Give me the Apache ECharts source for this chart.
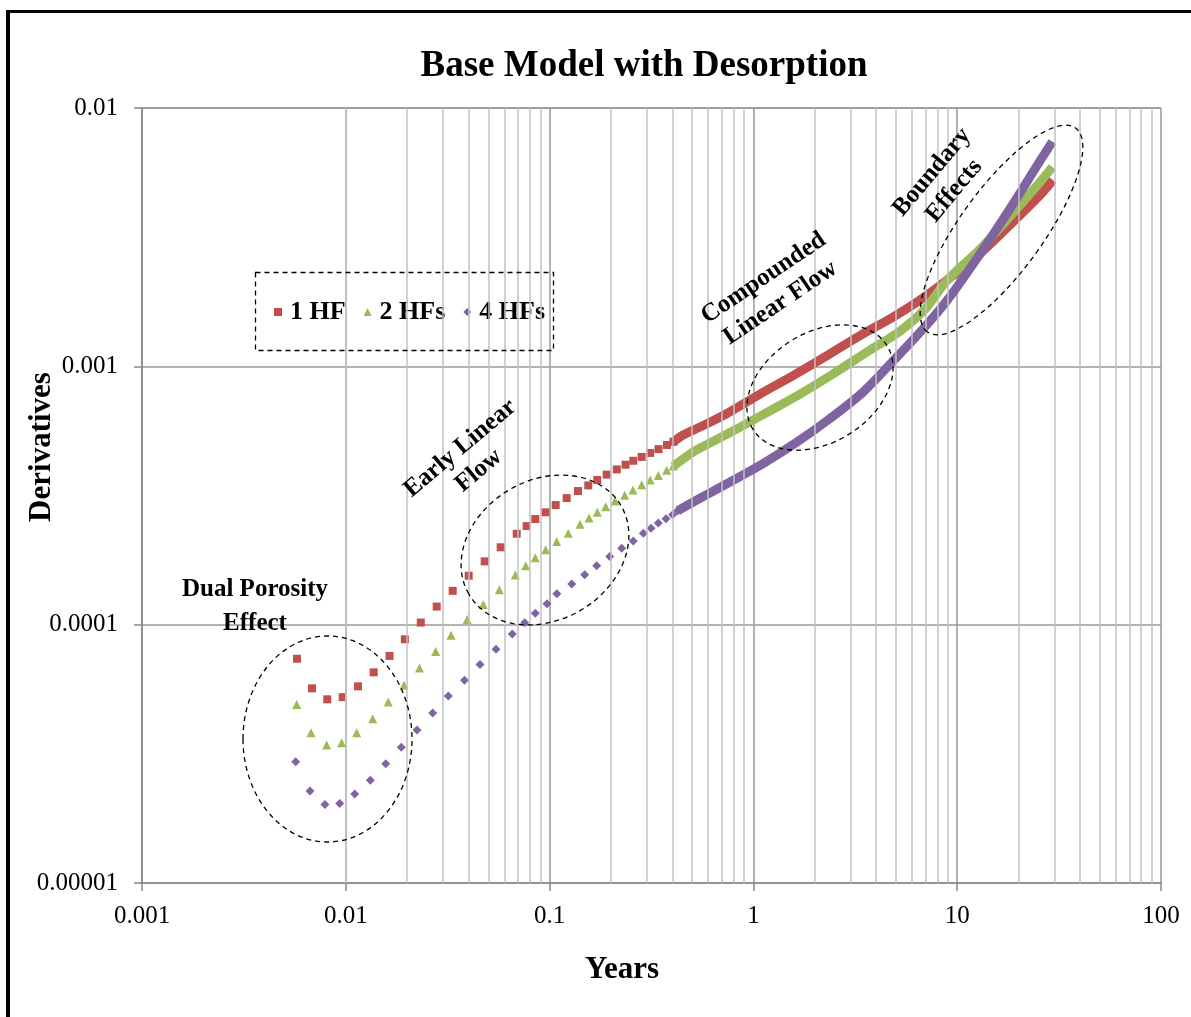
<!DOCTYPE html>
<html>
<head>
<meta charset="utf-8">
<title>Base Model with Desorption</title>
<script src="https://cdn.jsdelivr.net/npm/echarts@6/dist/echarts.min.js"></script>
<style>
  html, body { margin: 0; padding: 0; background: #fff; overflow: hidden; }
  #chart { width: 1191px; height: 1017px; }
</style>
</head>
<body>
<div id="chart"></div>
<script>
var fontSerif = "'Liberation Serif', 'Times New Roman', serif";

// tick labels (decades)
var xTickLabels = ['0.001', '0.01', '0.1', '1', '10', '100'];
var yTickLabels = ['0.00001', '0.0001', '0.001', '0.01'];
var xDecades = [0.001, 0.01, 0.1, 1, 10];
var minorSteps = [2, 3, 4, 5, 6, 7, 8, 9];

// 1 HF  [years, derivative]
var hf1Points = [
  [0.00576, 7.38e-5], [0.00683, 5.67e-5], [0.00811, 5.14e-5], [0.00966, 5.24e-5],
  [0.01148, 5.77e-5], [0.01371, 6.54e-5], [0.01639, 7.57e-5], [0.01948, 8.78e-5],
  [0.02333, 1.019e-4], [0.02793, 1.175e-4], [0.03346, 1.352e-4], [0.04009, 1.547e-4],
  [0.04802, 1.758e-4], [0.05754, 1.993e-4], [0.06896, 2.249e-4], [0.07719, 2.408e-4],
  [0.08507, 2.564e-4], [0.09526, 2.722e-4], [0.1071, 2.904e-4], [0.1213, 3.09e-4],
  [0.1378, 3.29e-4], [0.1548, 3.46e-4], [0.1714, 3.63e-4], [0.1906, 3.81e-4],
  [0.2137, 3.99e-4], [0.2358, 4.16e-4], [0.2574, 4.31e-4], [0.2831, 4.46e-4],
  [0.3116, 4.62e-4], [0.3423, 4.78e-4], [0.3767, 4.96e-4], [0.405, 5.1e-4]
];
var hf1Curve = [
  [0.405, 5.1e-4], [0.4515, 5.42e-4], [0.547, 5.82e-4], [0.7421, 6.57e-4],
  [1.077, 7.81e-4], [1.564, 9.21e-4], [2.297, 1.101e-3], [3.334, 1.316e-3],
  [4.842, 1.552e-3], [6.571, 1.806e-3], [8.913, 2.158e-3], [12.94, 2.733e-3],
  [18.79, 3.62e-3], [25.49, 4.6e-3], [29.5, 5.26e-3]
];

// 2 HFs
var hf2Points = [
  [0.005742, 4.91e-5], [0.006749, 3.815e-5], [0.008059, 3.42e-5], [0.009548, 3.49e-5],
  [0.01131, 3.815e-5], [0.01355, 4.32e-5], [0.01616, 5.02e-5], [0.0193, 5.83e-5],
  [0.023, 6.8e-5], [0.02761, 7.87e-5], [0.03283, 9.09e-5], [0.03941, 1.046e-4],
  [0.04727, 1.198e-4], [0.05664, 1.365e-4], [0.06788, 1.556e-4], [0.07632, 1.69e-4],
  [0.08507, 1.816e-4], [0.0957, 1.95e-4], [0.1083, 2.1e-4], [0.1235, 2.257e-4],
  [0.141, 2.445e-4], [0.1561, 2.586e-4], [0.1714, 2.722e-4], [0.1885, 2.861e-4],
  [0.2094, 3.01e-4], [0.2336, 3.17e-4], [0.2566, 3.32e-4], [0.2831, 3.48e-4],
  [0.3119, 3.63e-4], [0.3415, 3.78e-4], [0.3755, 3.96e-4], [0.4046, 4.11e-4]
];
var hf2Curve = [
  [0.4046, 4.11e-4], [0.5054, 4.66e-4], [0.547, 4.83e-4], [0.7944, 5.62e-4],
  [1.166, 6.63e-4], [1.693, 7.81e-4], [2.458, 9.34e-4], [3.609, 1.136e-3],
  [5.241, 1.37e-3], [6.95, 1.666e-3], [8.913, 2.149e-3], [12.94, 2.844e-3],
  [18.79, 3.923e-3], [25.49, 5.17e-3], [29.3, 5.91e-3]
];

// 4 HFs
var hf4Points = [
  [0.005678, 2.945e-5], [0.006673, 2.27e-5], [0.0079, 2.015e-5], [0.009335, 2.033e-5],
  [0.01106, 2.21e-5], [0.01319, 2.5e-5], [0.0157, 2.893e-5], [0.01872, 3.357e-5],
  [0.02236, 3.91e-5], [0.02669, 4.55e-5], [0.03184, 5.29e-5], [0.03823, 6.09e-5],
  [0.04556, 7.01e-5], [0.05458, 8.04e-5], [0.06561, 9.2e-5], [0.07546, 1.017e-4],
  [0.08507, 1.106e-4], [0.09709, 1.205e-4], [0.1086, 1.317e-4], [0.1284, 1.436e-4],
  [0.1487, 1.56e-4], [0.1702, 1.69e-4], [0.1972, 1.838e-4], [0.2258, 1.974e-4],
  [0.2574, 2.107e-4], [0.2884, 2.257e-4], [0.3144, 2.36e-4], [0.3415, 2.473e-4],
  [0.3725, 2.57e-4], [0.4018, 2.664e-4], [0.4252, 2.76e-4]
];
var hf4Curve = [
  [0.4252, 2.76e-4], [0.5171, 3.01e-4], [0.7678, 3.565e-4], [1.115, 4.2e-4],
  [1.637, 5.09e-4], [2.376, 6.28e-4], [3.45, 7.95e-4], [4.842, 1.048e-3],
  [6.796, 1.395e-3], [8.913, 1.798e-3], [12.94, 2.722e-3], [18.79, 4.25e-3],
  [25.49, 6.24e-3], [29.3, 7.41e-3]
];

var colors = ['#C0504D', '#9BBB59', '#8064A2'];

init();

function init(){
  var chart = echarts.init(document.getElementById('chart'), null, {renderer: 'canvas'});

  // minor vertical grid lines at 2..9 of every decade
  var minorX = [];
  xDecades.forEach(function (d) {
    minorSteps.forEach(function (m) { minorX.push({xAxis: d * m}); });
  });

  var dashed = {stroke: '#000', fill: 'none', lineWidth: 1.3, lineDash: [5, 4]};

  function note(text, x, y, angle, lh) {
    return {
      type: 'text', x: x, y: y, rotation: angle * Math.PI / 180, z: 100,
      style: {
        text: text, fill: '#000', fontFamily: fontSerif, fontWeight: 'bold', fontSize: 25,
        lineHeight: lh, align: 'center', verticalAlign: 'middle',
        textAlign: 'center', textVerticalAlign: 'middle'
      }
    };
  }

  function ring(cx, cy, rx, ry, angle) {
    return {
      type: 'ellipse', x: cx, y: cy, rotation: angle * Math.PI / 180, z: 100,
      shape: {cx: 0, cy: 0, rx: rx, ry: ry},
      style: dashed
    };
  }

  chart.setOption({
    animation: false,
    color: colors,
    title: {
      text: 'Base Model with Desorption',
      left: 644, top: 48, textAlign: 'center', padding: 0,
      textStyle: {fontFamily: fontSerif, fontWeight: 'bold', fontSize: 37, color: '#000'}
    },
    legend: {
      left: 274, top: 299, padding: 0,
      itemWidth: 8, itemHeight: 8, itemGap: 18,
      textStyle: {fontFamily: fontSerif, fontWeight: 'bold', fontSize: 26, color: '#000',
                  padding: [0, 0, 0, 3]},
      data: [
        {name: '1 HF', icon: 'rect'},
        {name: '2 HFs', icon: 'triangle'},
        {name: '4 HFs', icon: 'diamond'}
      ]
    },
    grid: {left: 142, right: 30, top: 108, bottom: 134, outerBoundsMode: 'none'},
    xAxis: {
      type: 'log', logBase: 10, min: 0.001, max: 100,
      axisLine: {onZero: false, lineStyle: {color: '#888', width: 1.5}},
      axisTick: {show: true, inside: false, length: 8, lineStyle: {color: '#888', width: 1.5}},
      axisLabel: {
        margin: 21, color: '#000', fontFamily: fontSerif, fontSize: 25,
        showMinLabel: true, showMaxLabel: true,
        formatter: function (v) { return xTickLabels[Math.round(Math.log10(v)) + 3]; }
      },
      splitLine: {show: true, lineStyle: {color: '#999', width: 1.5}},
      minorTick: {show: false},
      minorSplitLine: {show: false}
    },
    yAxis: {
      type: 'log', logBase: 10, min: 0.00001, max: 0.01,
      axisLine: {show: true, onZero: false, lineStyle: {color: '#888', width: 1.5}},
      axisTick: {show: true, inside: false, length: 8, lineStyle: {color: '#888', width: 1.5}},
      axisLabel: {
        margin: 24, color: '#000', fontFamily: fontSerif, fontSize: 25,
        showMinLabel: true, showMaxLabel: true,
        formatter: function (v) { return yTickLabels[Math.round(Math.log10(v)) + 5]; }
      },
      splitLine: {show: true, lineStyle: {color: '#999', width: 1.5}}
    },
    graphic: [
      // outer frame, left and top edges only
      {type: 'line', z: 100, shape: {x1: 8, y1: 10, x2: 8, y2: 1017}, style: {stroke: '#000', lineWidth: 4}},
      {type: 'line', z: 100, shape: {x1: 6, y1: 11.5, x2: 1191, y2: 11.5}, style: {stroke: '#000', lineWidth: 3}},
      // dashed legend box
      {type: 'rect', z: 100, shape: {x: 255.5, y: 272.5, width: 298, height: 78}, style: dashed},
      // axis names
      {type: 'text', x: 622, y: 970, z: 100,
       style: {text: 'Years', fill: '#000', fontFamily: fontSerif, fontWeight: 'bold', fontSize: 31,
               align: 'center', verticalAlign: 'middle', textAlign: 'center', textVerticalAlign: 'middle'}},
      {type: 'text', x: 42, y: 447, z: 100, rotation: Math.PI / 2,
       style: {text: 'Derivatives', fill: '#000', fontFamily: fontSerif, fontWeight: 'bold', fontSize: 31,
               align: 'center', verticalAlign: 'middle', textAlign: 'center', textVerticalAlign: 'middle'}},
      // annotations
      note('Dual Porosity\nEffect', 255, 607, 0, 34),
      note('Early Linear\nFlow', 469.5, 459.5, 40, 29),
      note('Compounded\nLinear Flow', 772, 290.5, 34, 30),
      note('Boundary\nEffects', 943, 181.5, 50, 29),
      ring(327.5, 739, 84.5, 103, 0),
      ring(545, 550, 88, 70, 30),
      ring(820, 387.5, 79, 55, 32),
      ring(1001.5, 230, 126, 41.5, 54)
    ],
    series: [
      {
        name: 'minor', type: 'line', data: [], z: 0, silent: true,
        markLine: {
          silent: true, symbol: ['none', 'none'], label: {show: false},
          lineStyle: {color: '#c0c0c0', width: 1.5, type: 'solid'},
          emphasis: {disabled: true},
          data: minorX
        }
      },
      {name: '1 HF', type: 'scatter', symbol: 'rect', symbolSize: 8, data: hf1Points,
       itemStyle: {color: colors[0], opacity: 1}},
      {name: '1 HF', type: 'line', data: hf1Curve, showSymbol: false, smooth: 0.3,
       lineStyle: {color: colors[0], width: 9}, itemStyle: {color: colors[0]}},
      {name: '2 HFs', type: 'scatter', symbol: 'triangle', symbolSize: 9, data: hf2Points,
       itemStyle: {color: colors[1], opacity: 1}},
      {name: '2 HFs', type: 'line', data: hf2Curve, showSymbol: false, smooth: 0.3,
       lineStyle: {color: colors[1], width: 9}, itemStyle: {color: colors[1]}},
      {name: '4 HFs', type: 'scatter', symbol: 'diamond', symbolSize: 9, data: hf4Points,
       itemStyle: {color: colors[2], opacity: 1}},
      {name: '4 HFs', type: 'line', data: hf4Curve, showSymbol: false, smooth: 0.3,
       lineStyle: {color: colors[2], width: 9}, itemStyle: {color: colors[2]}}
    ]
  });
}
</script>
</body>
</html>
